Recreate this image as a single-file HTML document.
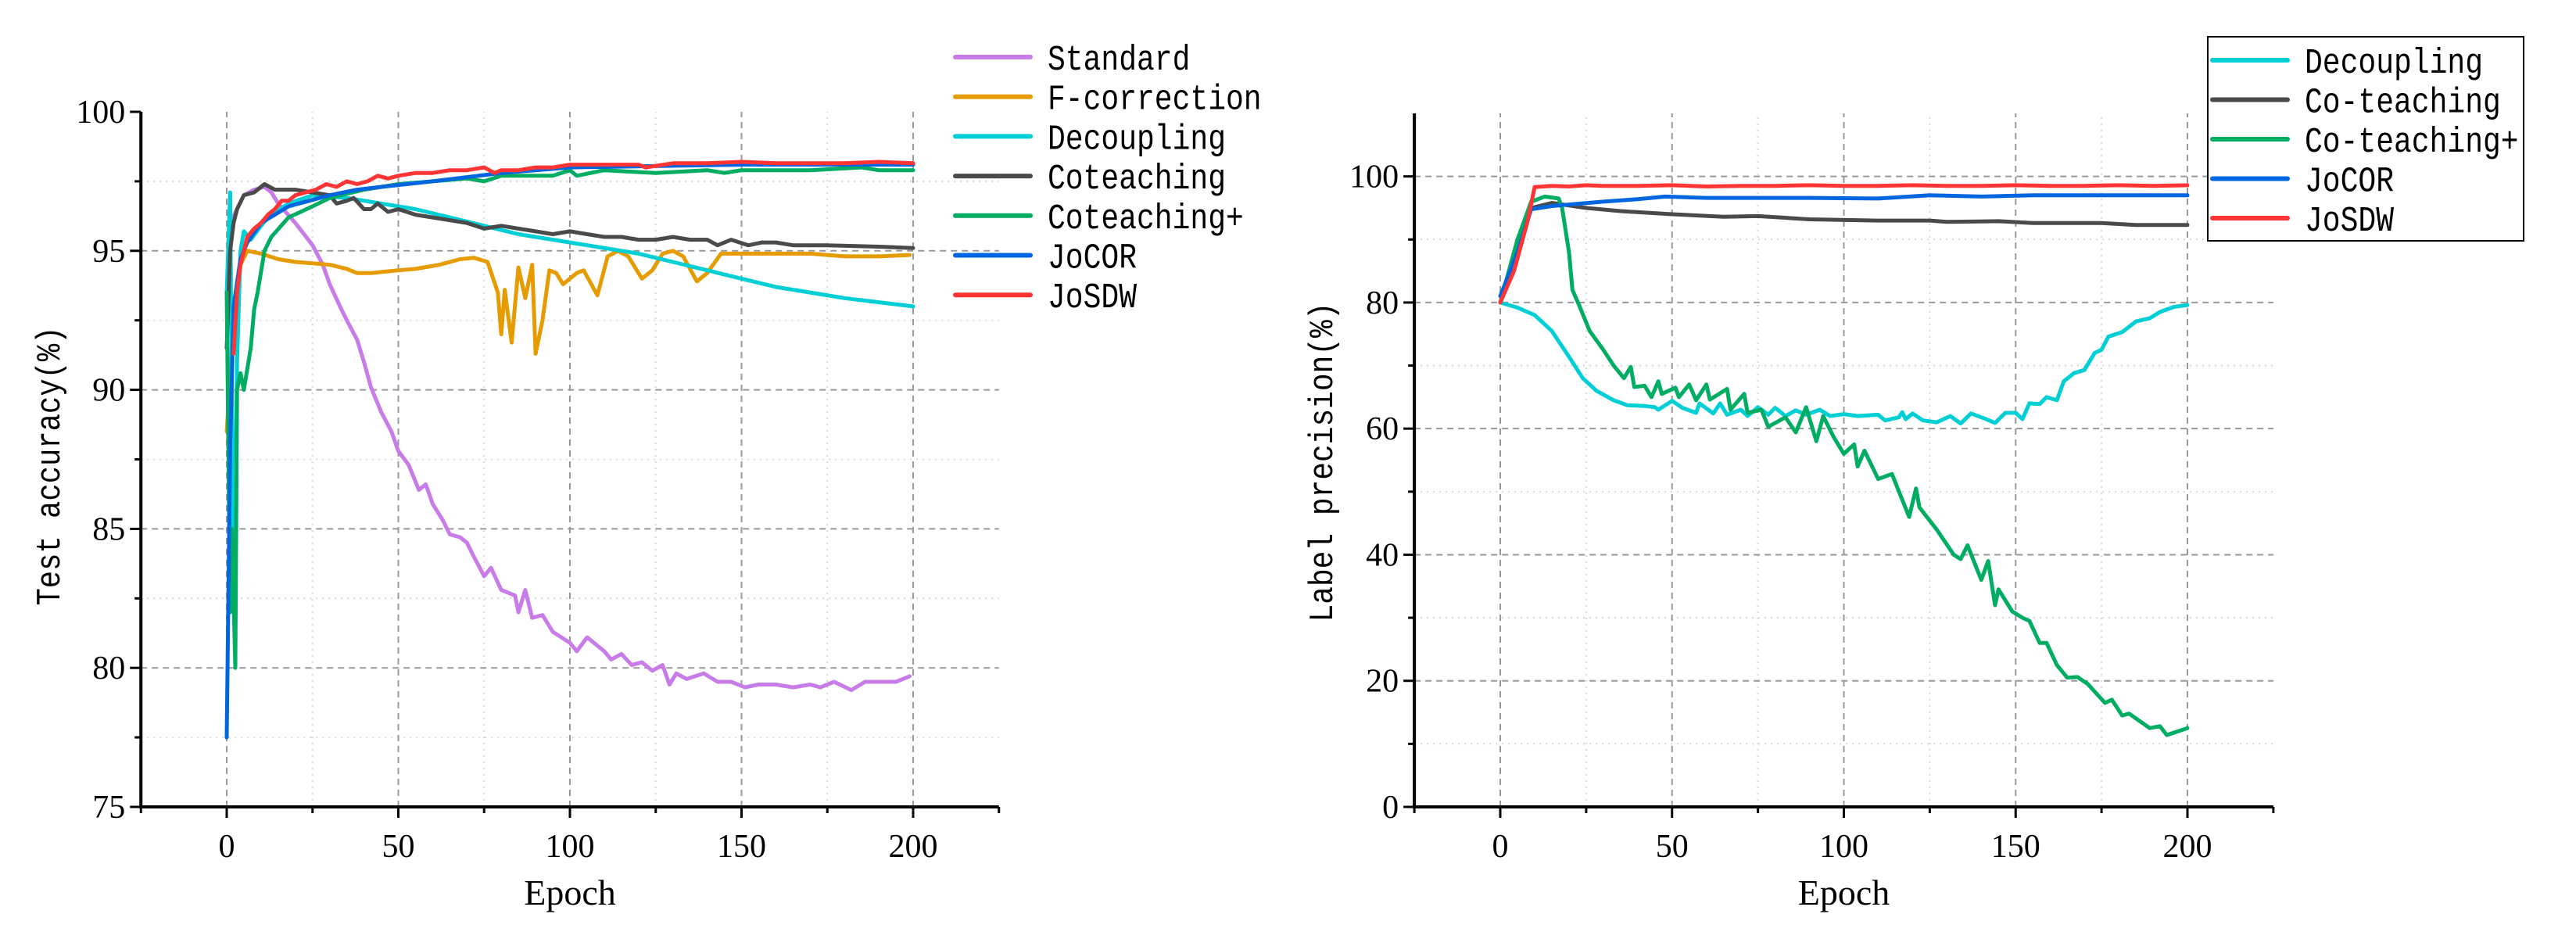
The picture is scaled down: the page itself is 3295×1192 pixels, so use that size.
<!DOCTYPE html>
<html><head><meta charset="utf-8">
<style>
html,body{margin:0;padding:0;background:#fff;}
svg{display:block;}
text{font-family:"Liberation Serif",serif;fill:#000;}
.mono{font-family:"Liberation Mono",monospace;}
</style></head>
<body>
<svg id="chart" width="3295" height="1192" viewBox="0 0 3295 1192" xmlns="http://www.w3.org/2000/svg">
<rect width="3295" height="1192" fill="#fff"/>
<g id="left"></g>
<g id="right"></g>
</svg>
<script>
// ---------- Left chart data ----------
const L_std_x=[1,3,5,8,11,13,15,20,25,28,30,33,35,38,40,42,45,48,50,53,56,58,60,63,65,68,70,72,75,77,80,84,85,87,89,92,95,100,102,105,110,112,115,118,121,124,127,129,131,134,139,143,147,151,155,160,165,170,173,177,182,186,190,195,199];
const L_std_y=[96,96.5,97,97.2,97.3,97.1,96.7,96,95.2,94.5,93.8,93,92.5,91.8,91,90.1,89.2,88.5,87.8,87.3,86.4,86.6,85.9,85.3,84.8,84.7,84.5,84,83.3,83.6,82.8,82.6,82,82.8,81.8,81.9,81.3,80.9,80.6,81.1,80.6,80.3,80.5,80.1,80.2,79.9,80.1,79.4,79.8,79.6,79.8,79.5,79.5,79.3,79.4,79.4,79.3,79.4,79.3,79.5,79.2,79.5,79.5,79.5,79.7];
const L_fc_x=[0,2,4,6,10,15,20,25,30,35,38,42,50,55,62,68,72,76,79,80,81,83,85,87,89,90,92,94,96,98,102,104,108,111,114,117,121,124,127,130,133,137,140,144,150,160,170,180,190,199];
const L_fc_y=[88.5,92.5,94.5,95,94.9,94.7,94.6,94.55,94.5,94.35,94.2,94.2,94.3,94.35,94.5,94.7,94.75,94.6,93.5,92,93.6,91.7,94.4,93.3,94.5,91.3,92.5,94.3,94.2,93.8,94.2,94.3,93.4,94.8,95,94.8,94,94.3,94.9,95,94.8,93.9,94.2,94.9,94.9,94.9,94.9,94.8,94.8,94.85];
const L_dec_x=[0,1,2,3,4,5,7,10,12,18,25,35,45,55,65,75,85,100,110,120,130,140,150,160,170,180,190,200];
const L_dec_y=[93.5,97.1,82,91,95,95.7,95.4,95.9,96.2,96.7,97,96.9,96.7,96.5,96.2,95.9,95.6,95.3,95.1,94.9,94.6,94.3,94,93.7,93.5,93.3,93.15,93.0];
const L_cot_x=[0,1,2,3,5,8,10,11,14,20,25,30,32,35,37,40,42,44,47,50,55,60,65,70,75,80,85,90,95,100,105,110,115,120,125,130,135,140,143,147,152,156,160,165,175,190,200];
const L_cot_y=[91.5,95,96,96.5,97,97.1,97.3,97.4,97.2,97.2,97.1,97,96.7,96.8,96.9,96.5,96.5,96.7,96.4,96.5,96.3,96.2,96.1,96,95.8,95.9,95.8,95.7,95.6,95.7,95.6,95.5,95.5,95.4,95.4,95.5,95.4,95.4,95.2,95.4,95.2,95.3,95.3,95.2,95.2,95.15,95.1];
const L_cp_x=[0,1,1.5,2.5,3,4,5,7,8,9,11,13,18,25,30,40,50,60,70,75,80,95,100,102,110,125,140,145,150,170,185,190,200];
const L_cp_y=[93.5,82,85,80,90,90.6,90,91.5,92.9,93.5,95,95.5,96.2,96.6,96.9,97.2,97.4,97.5,97.6,97.5,97.7,97.7,97.9,97.7,97.9,97.8,97.9,97.8,97.9,97.9,98,97.9,97.9];
const L_jc_x=[0,1,2,4,6,10,14,18,24,30,38,45,60,80,100,150,200];
const L_jc_y=[77.5,88,93,94.7,95.3,96,96.3,96.6,96.8,97,97.2,97.3,97.5,97.8,98,98.1,98.1];
const L_js_x=[2,3,4,6,8,10,12,14,16,18,20,23,26,29,32,35,38,41,44,47,50,55,60,65,70,75,78,80,85,90,95,100,110,120,122,130,140,150,160,170,180,190,200];
const L_js_y=[91.3,93.5,94.5,95.5,95.8,96,96.3,96.5,96.8,96.8,97,97.1,97.2,97.4,97.3,97.5,97.4,97.5,97.7,97.6,97.7,97.8,97.8,97.9,97.9,98,97.8,97.9,97.9,98,98,98.1,98.1,98.1,98,98.15,98.15,98.2,98.15,98.15,98.15,98.2,98.15];

// ---------- Right chart data ----------
const R_dec_x=[0,5,10,15,20,24,28,33,37,42,45,46,50,53,57,58,62,64,66,70,72,75,78,80,83,86,89,93,96,100,104,110,112,116,117,118,120,123,127,131,134,137,141,144,147,150,152,154,157,159,162,164,167,170,173,175,177,181,185,189,192,196,200];
const R_dec_y=[80,79.2,78,75.5,71.4,68,66,64.5,63.7,63.6,63.4,63,64.4,63.3,62.5,64,62.4,64,62.2,63,62,63.4,62.2,63.3,62,62.9,62.2,63,62,62.3,62,62.2,61.3,61.8,62.6,61.5,62.4,61.3,61,62,60.8,62.4,61.6,60.9,62.5,62.5,61.5,64,63.9,65,64.5,67.5,68.8,69.3,72,72.5,74.6,75.3,77,77.5,78.5,79.3,79.6];
const R_cp_x=[0,5,9,13,17,18,20,21,23,26,30,33,36,38,39,42,44,46,47,51,52,55,57,60,61,66,67,71,72,76,78,83,86,89,92,94,97,100,103,104,106,110,114,119,121,122,127,132,134,136,140,142,144,145,149,152,154,157,159,162,165,168,171,176,178,181,183,189,192,194,200];
const R_cp_y=[80,90,96,96.8,96.5,95,88,82,79.5,75.5,72.5,70,68,69.8,66.6,66.8,65,67.5,65.5,66.5,65,67,64.5,67,64.6,66.3,63,65.5,62.5,63,60.3,61.8,59.4,63.4,58,62,58.7,56,57.5,54,56.5,52,52.8,46,50.5,47.5,44,40,39.3,41.5,36,39,32,34.5,31,30,29.5,26,26,22.5,20.5,20.6,19.5,16.5,17,14.5,14.8,12.5,12.8,11.4,12.5];
const R_cot_x=[0,5,9,15,25,35,50,65,75,90,110,125,130,145,155,175,185,200];
const R_cot_y=[80,88,95,95.8,95,94.5,94,93.6,93.7,93.2,93,93,92.8,92.9,92.6,92.6,92.3,92.3];
const R_jc_x=[0,5,9,15,30,40,48,60,90,110,125,140,155,200];
const R_jc_y=[81,88,94.8,95.3,96,96.4,96.8,96.6,96.6,96.5,97,96.8,97,97];
const R_js_x=[0,4,8,10,15,20,25,30,40,50,60,70,80,90,100,110,120,130,140,150,160,170,180,190,200];
const R_js_y=[80,85,93,98.3,98.5,98.4,98.6,98.5,98.5,98.6,98.4,98.5,98.5,98.6,98.5,98.5,98.6,98.5,98.5,98.6,98.5,98.5,98.6,98.5,98.6];

const NS="http://www.w3.org/2000/svg";
function mk(tag,parent,attrs){const e=document.createElementNS(NS,tag);for(const k in attrs)e.setAttribute(k,attrs[k]);parent.appendChild(e);return e;}

function drawAxes(g,cfg){
  const sx=v=>cfg.x0+(cfg.x200-cfg.x0)*v/200;
  const sy=v=>cfg.ybot-(cfg.ybot-cfg.ytop)*(v-cfg.vmin)/(cfg.vmax-cfg.vmin);
  const left=sx(-25),right=sx(225);
  for(const v of cfg.minorY){const l=mk('line',g,{x1:left,x2:right,y1:sy(v),y2:sy(v),stroke:'#d8d8d8','stroke-width':2,'stroke-dasharray':'2 6'});
    }
  for(const v of [25,75,125,175]){const l=mk('line',g,{x1:sx(v),x2:sx(v),y1:cfg.ybot,y2:cfg.ytop,stroke:'#d8d8d8','stroke-width':2,'stroke-dasharray':'2 6'});
    }
  for(const v of cfg.majorGridY){const l=mk('line',g,{x1:left,x2:right,y1:sy(v),y2:sy(v),stroke:'#999','stroke-width':2,'stroke-dasharray':'8 6'});
    }
  for(const v of [0,50,100,150,200]){const l=mk('line',g,{x1:sx(v),x2:sx(v),y1:cfg.ybot,y2:cfg.ytop,stroke:'#999','stroke-width':2,'stroke-dasharray':'8 6'});
    }
  return {sx,sy,left,right};
}
function finishAxes(g,cfg,s){
  const a1=mk('line',g,{x1:s.left,x2:s.left,y1:cfg.ybot+2,y2:cfg.ytop,stroke:'#000','stroke-width':4});
  
  const a2=mk('line',g,{x1:s.left-2,x2:s.right,y1:cfg.ybot,y2:cfg.ybot,stroke:'#000','stroke-width':4});
  
  for(const v of cfg.ticksY){const t=mk('line',g,{x1:s.left-14,x2:s.left,y1:s.sy(v),y2:s.sy(v),stroke:'#000','stroke-width':3});
    
    const tx=mk('text',g,{x:s.left-20,y:s.sy(v)+14,'text-anchor':'end','font-size':42});tx.textContent=String(v);
    }
  for(const v of cfg.minorY){const t=mk('line',g,{x1:s.left-8,x2:s.left,y1:s.sy(v),y2:s.sy(v),stroke:'#000','stroke-width':3});
    }
  for(const v of [-25,0,25,50,75,100,125,150,175,200,225]){const major=(v%50===0);
    const t=mk('line',g,{x1:s.sx(v),x2:s.sx(v),y1:cfg.ybot,y2:cfg.ybot+(major?14:8),stroke:'#000','stroke-width':3});
    
    if(major&&v>=0&&v<=200){const tx=mk('text',g,{x:s.sx(v),y:cfg.ybot+64,'text-anchor':'middle','font-size':42});tx.textContent=String(v);
      }}
  const xt=mk('text',g,{x:(s.sx(0)+s.sx(200))/2,y:cfg.ybot+125,'text-anchor':'middle','font-size':46});xt.textContent='Epoch';
  
  const yt=mk('text',g,{x:0,y:0,'text-anchor':'middle','font-size':44,'class':'mono',textLength:cfg.ytitleLen,lengthAdjust:'spacingAndGlyphs',transform:`translate(${cfg.ytitleX},${cfg.ytitleY}) rotate(-90)`});yt.textContent=cfg.ytitle;
  
}
function series(g,s,xs,ys,color,name){
  let d='';xs.forEach((x,i)=>{d+=(i?'L':'M')+s.sx(x).toFixed(1)+','+s.sy(ys[i]).toFixed(1);});
  const p=mk('path',g,{d:d,fill:'none',stroke:color,'stroke-width':5,'stroke-linejoin':'round','stroke-linecap':'round'});
  
  
}
function legend(g,x,y0,dy,items){
  items.forEach((it,i)=>{const y=y0+i*dy;
    const l=mk('line',g,{x1:x,x2:x+96,y1:y,y2:y,stroke:it[1],'stroke-width':6,'stroke-linecap':'round'});
    
    const t=mk('text',g,{x:x+118,y:y+16,'font-size':45,'class':'mono',textLength:(it[0].length*22.8).toFixed(1),lengthAdjust:'spacingAndGlyphs'});t.textContent=it[0];
    });
}
const C={std:'#c77ce8',fc:'#e69b00',dec:'#00cfd5',cot:'#4a4a4a',cp:'#00ad62',jc:'#0066e0',js:'#ff3535'};

// Left
const gl=document.getElementById('left');
const cfgL={x0:290,x200:1168,ybot:1032,ytop:143,vmin:75,vmax:100,minorY:[77.5,82.5,87.5,92.5,97.5],majorGridY:[80,85,90,95],ticksY:[75,80,85,90,95,100],ytitle:'Test accuracy(%)',ytitleX:76,ytitleY:596,ytitleLen:357};
const sL=drawAxes(gl,cfgL);
series(gl,sL,L_std_x,L_std_y,C.std,'series-standard');
series(gl,sL,L_fc_x,L_fc_y,C.fc,'series-f-correction');
series(gl,sL,L_dec_x,L_dec_y,C.dec,'series-decoupling');
series(gl,sL,L_cot_x,L_cot_y,C.cot,'series-coteaching');
series(gl,sL,L_cp_x,L_cp_y,C.cp,'series-coteaching-plus');
series(gl,sL,L_jc_x,L_jc_y,C.jc,'series-jocor');
series(gl,sL,L_js_x,L_js_y,C.js,'series-josdw');
finishAxes(gl,cfgL,sL);
legend(gl,1222,73,50.7,[['Standard',C.std],['F-correction',C.fc],['Decoupling',C.dec],['Coteaching',C.cot],['Coteaching+',C.cp],['JoCOR',C.jc],['JoSDW',C.js]]);

// Right
const gr=document.getElementById('right');
const cfgR={x0:1919,x200:2798,ybot:1032,ytop:145,vmin:0,vmax:110,minorY:[10,30,50,70,90],majorGridY:[20,40,60,80,100],ticksY:[0,20,40,60,80,100],ytitle:'Label precision(%)',ytitleX:1704,ytitleY:591,ytitleLen:409};
const sR=drawAxes(gr,cfgR);
series(gr,sR,R_dec_x,R_dec_y,C.dec,'series-decoupling');
series(gr,sR,R_cot_x,R_cot_y,C.cot,'series-co-teaching');
series(gr,sR,R_cp_x,R_cp_y,C.cp,'series-co-teaching-plus');
series(gr,sR,R_jc_x,R_jc_y,C.jc,'series-jocor');
series(gr,sR,R_js_x,R_js_y,C.js,'series-josdw');
finishAxes(gr,cfgR,sR);
const box=mk('rect',gr,{x:2824,y:47,width:404,height:261,fill:'#fff',stroke:'#000','stroke-width':2});


legend(gr,2830,77,50.5,[['Decoupling',C.dec],['Co-teaching',C.cot],['Co-teaching+',C.cp],['JoCOR',C.jc],['JoSDW',C.js]]);
</script>
</body></html>
